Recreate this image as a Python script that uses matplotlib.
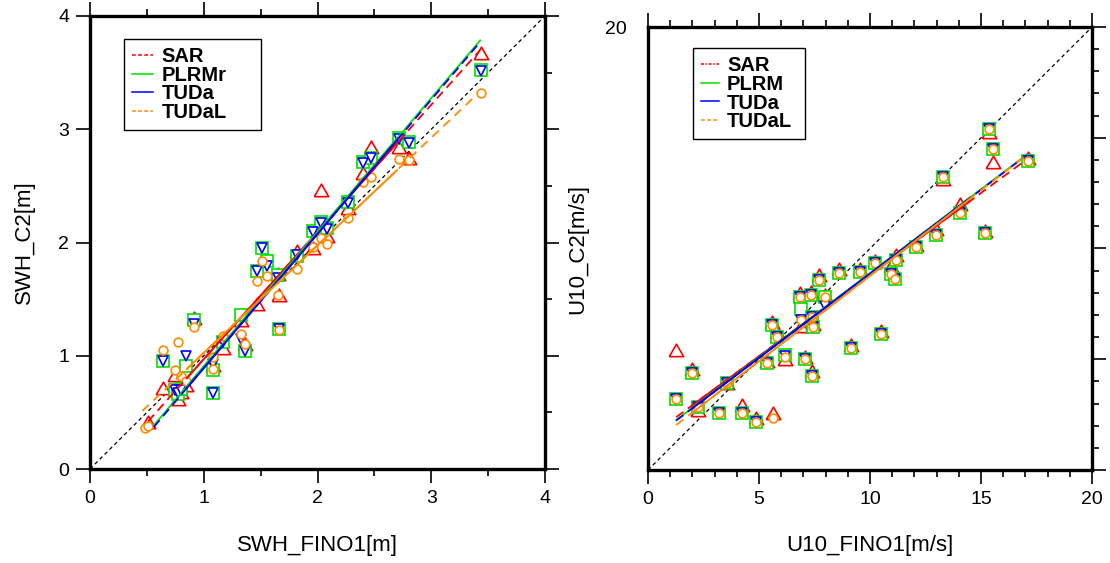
import numpy as np
import matplotlib
matplotlib.use('Agg')
import matplotlib.pyplot as plt
from matplotlib.lines import Line2D
from matplotlib.ticker import MultipleLocator

plt.rcParams['font.family'] = ['Liberation Sans', 'DejaVu Sans']

nan = np.nan

# ---------------- SWH panel ----------------
swh_names = ['SAR', 'PLRMr', 'TUDa', 'TUDaL']
swh_fino1 = [0.48, 0.51, 0.64, 0.75, 0.77, 0.80, 0.84, 0.91, 1.08, 1.08,
             1.17, 1.33, 1.36, 1.47, 1.51, 1.56, 1.65, 1.66, 1.82, 1.96,
             2.03, 2.08, 2.27, 2.40, 2.47, 2.72, 2.80, 3.44]
swh_sar = [nan, 0.40, 0.70, 0.81, 0.60, 0.66, 0.72, 1.32, 0.90, nan,
           1.05, 1.30, 1.09, 1.44, nan, nan, 1.70, 1.52, 1.91, 1.93,
           2.45, 2.04, 2.29, 2.60, 2.83, 2.83, 2.73, 3.66]
swh_plrm = [nan, nan, 0.95, 0.70, 0.66, 0.71, 0.91, 1.32, 0.87, 0.67,
            1.12, 1.36, 1.04, 1.75, 1.95, 1.84, 1.71, 1.24, 1.88, 2.10,
            2.18, 2.13, 2.36, 2.71, 2.75, 2.92, 2.89, 3.52]
swh_tuda = [nan, nan, 0.95, 0.70, 0.67, 0.70, 1.00, 1.28, 0.93, 0.67,
            1.12, 1.15, 1.04, 1.75, 1.95, 1.79, 1.69, 1.24, 1.89, 2.09,
            2.17, 2.12, 2.35, 2.70, 2.75, 2.91, 2.88, 3.51]
swh_tudal = [0.36, 0.38, 1.05, 0.87, 1.12, 0.82, 0.78, 1.25, 0.88, 0.99,
             1.17, 1.19, 1.10, 1.66, 1.84, 1.70, 1.54, 1.23, 1.77, 1.96,
             2.04, 1.99, 2.22, 2.53, 2.58, 2.74, 2.73, 3.32]
# regression lines: slope, intercept, x range
swh_slope = [1.123, 1.185, 1.185, 0.950]
swh_icpt = [-0.153, -0.280, -0.294, 0.075]
swh_x0 = [0.51, 0.56, 0.56, 0.46]
swh_x1 = [3.43, 3.43, 3.43, 3.40]
swh_solid = (0.85, 2.70)

# ---------------- U10 panel ----------------
u10_names = ['SAR', 'PLRM', 'TUDa', 'TUDaL']
u10_fino1 = [1.27, 2.00, 2.26, 3.20, 3.57, 4.22, 4.85, 5.65, 5.35, 5.57,
             5.79, 6.17, 6.84, 6.89, 7.09, 7.34, 7.39, 7.39, 7.45, 7.70,
             7.97, 8.62, 9.13, 9.55, 10.22, 10.48, 10.93, 11.13, 11.17, 12.07,
             12.99, 13.27, 14.05, 15.18, 15.38, 15.56, 17.10]
u10_sar = [5.34, 4.48, 2.64, nan, 3.84, 2.83, 2.25, 2.48, 4.82, 6.60,
           6.15, 4.92, 7.88, 6.40, 5.02, 7.95, 4.36, nan, 6.50, 8.70,
           7.80, 9.00, 5.55, 9.00, 9.36, 6.20, 9.10, nan, 9.60, 10.05,
           10.80, 13.03, 11.91, 10.70, 15.15, 13.81, 14.00]
u10_plrm = [3.19, 4.36, 2.83, 2.58, 3.94, 2.58, 2.18, nan, 4.82, 6.55,
            6.02, 5.18, 7.83, 7.25, 5.00, 7.90, 4.26, 6.89, 6.47, 8.58,
            7.80, 8.91, 5.52, 8.92, 9.33, 6.13, 8.85, 8.62, 9.48, 10.08,
            10.61, 13.24, 11.59, 10.68, 15.38, 14.48, 13.95]
u10_tuda = [3.19, 4.36, 2.83, 2.58, 3.94, 2.58, 2.18, nan, 4.82, 6.55,
            6.02, 5.15, 7.83, 6.77, 5.00, 7.90, 4.26, 6.89, 6.47, 8.58,
            7.41, 8.91, 5.52, 8.92, 9.33, 6.13, 8.85, 8.62, 9.48, 10.08,
            10.61, 13.24, 11.59, 10.68, 15.38, 14.48, 13.95]
u10_tudal = [3.19, 4.36, 2.83, 2.58, 3.94, 2.58, 2.18, 2.33, 4.82, 6.55,
             6.02, 5.09, 7.83, 6.77, 5.00, 7.90, 4.26, 6.89, 6.47, 8.58,
             7.80, 8.91, 5.52, 8.92, 9.33, 6.13, 8.85, 8.62, 9.48, 10.08,
             10.61, 13.24, 11.59, 10.68, 15.38, 14.48, 13.95]
u10_slope = [0.737, 0.759, 0.759, 0.772]
u10_icpt = [1.45, 1.29, 1.27, 1.05]
u10_x0 = [1.27, 1.27, 1.27, 1.27]
u10_x1 = [16.90, 17.06, 17.06, 17.06]
u10_solid = (2.0, 14.5)
u10_yticks = [0, 5, 10, 15, 20]
u10_ytick_labels = ['', '', '', '', '20']

colors = ['#ff0000', '#00e000', '#0000ff', '#ff8c00']
tri_up = [(-0.866, -0.5), (0.866, -0.5), (0.0, 1.0), (-0.866, -0.5)]
markers = [tri_up, 's', 'v', 'o']
msizes = [12.0, 8.0, 7.8, 6.3]
fit_styles = [(0, (5, 3)), '-', (0, (5, 3)), (0, (5, 3.5))]


def draw_panel(ax, x, ys, slope, icpt, x0, x1, solid, lim):
    ax.plot([0, lim], [0, lim], color='black', lw=0.9, ls=(0, (3, 2.5)), zorder=2)
    for i, y in enumerate(ys):
        ax.plot(x, y, ls='none', marker=markers[i], ms=msizes[i], mfc='white',
                mec=colors[i], mew=1.2, zorder=3 + i)
    for i in range(len(ys)):
        xx = np.array([x0[i], x1[i]])
        ax.plot(xx, slope[i] * xx + icpt[i], color=colors[i], lw=1.3,
                ls=fit_styles[i], zorder=8)
        xs = np.array(solid)
        ax.plot(xs, slope[i] * xs + icpt[i], color=colors[i], lw=1.4, zorder=8)
    ax.set_xlim(0, lim)
    ax.set_ylim(0, lim)
    for sp in ax.spines.values():
        sp.set_linewidth(2.4)
    ax.tick_params(which='both', direction='out', top=True, right=True, width=1.2,
                   labelsize=14)
    ax.tick_params(which='major', length=10, pad=5)
    ax.tick_params(which='minor', length=5)


def add_legend(ax, names, bbox, hlen, styles):
    handles = [Line2D([], [], color=colors[i], lw=1.1, ls=styles[i]) for i in range(4)]
    leg = ax.legend(handles, names, loc='upper left', bbox_to_anchor=bbox, mode='expand',
                    borderaxespad=0, fancybox=False, framealpha=1, edgecolor='black',
                    prop={'weight': 'bold', 'size': 14.5}, handlelength=hlen,
                    handletextpad=0.4, labelspacing=-0.02, borderpad=0.4)
    leg.get_frame().set_linewidth(1.0)
    leg.set_zorder(20)


fig = plt.figure(figsize=(11.1, 5.63), dpi=100)

ax1 = fig.add_axes([90 / 1110, 94 / 563, 455 / 1110, 453 / 563])
draw_panel(ax1, swh_fino1, [swh_sar, swh_plrm, swh_tuda, swh_tudal],
           swh_slope, swh_icpt, swh_x0, swh_x1, swh_solid, 4)
ax1.xaxis.set_major_locator(MultipleLocator(1))
ax1.yaxis.set_major_locator(MultipleLocator(1))
ax1.xaxis.set_minor_locator(MultipleLocator(0.5))
ax1.yaxis.set_minor_locator(MultipleLocator(0.5))
ax1.tick_params(axis='y', which='minor', left=False)
ax1.set_xlabel('SWH_FINO1[m]', fontsize=16, va='center')
ax1.set_ylabel('SWH_C2[m]', fontsize=16, va='center')
ax1.xaxis.set_label_coords(0.5, (469 - 545) / 453)
ax1.yaxis.set_label_coords((24 - 90) / 455, 0.5)
add_legend(ax1, swh_names, (0.075, 0.75, 0.301, 0.199), 1.05,
           [(0, (2.5, 1.5)), '-', '-', (0, (2.5, 1.5))])

ax2 = fig.add_axes([648 / 1110, 93 / 563, 444 / 1110, 443 / 563])
draw_panel(ax2, u10_fino1, [u10_sar, u10_plrm, u10_tuda, u10_tudal],
           u10_slope, u10_icpt, u10_x0, u10_x1, u10_solid, 20)
ax2.xaxis.set_major_locator(MultipleLocator(5))
ax2.xaxis.set_minor_locator(MultipleLocator(1))
ax2.yaxis.set_minor_locator(MultipleLocator(1))
ax2.set_yticks(u10_yticks)
ax2.set_yticklabels(u10_ytick_labels)
ax2.tick_params(axis='y', which='both', left=False)
ax2.set_xlabel('U10_FINO1[m/s]', fontsize=16, va='center')
ax2.set_ylabel('U10_C2[m/s]', fontsize=16, va='center')
ax2.xaxis.set_label_coords(0.5, (470 - 545) / 443)
ax2.yaxis.set_label_coords((578 - 648) / 444, 0.5)
add_legend(ax2, u10_names, (0.101, 0.753, 0.253, 0.199), 0.9,
           [(0, (2, 1, 1, 1)), '-', '-', (0, (2.5, 1.5))])

fig.savefig('out.png', dpi=100)
